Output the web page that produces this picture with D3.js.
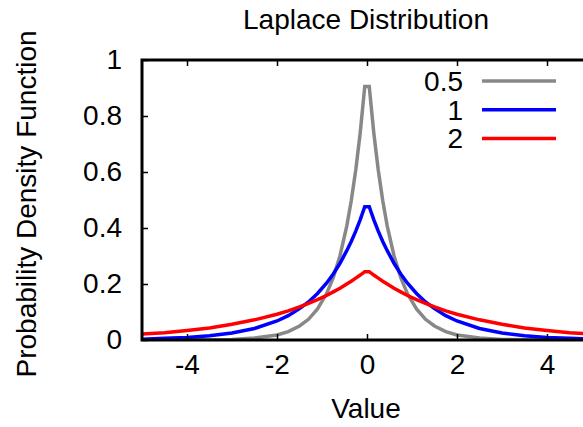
<!doctype html>
<html>
  <head>
    <meta charset="utf-8">
    <script src="https://cdnjs.cloudflare.com/ajax/libs/d3/7.8.5/d3.min.js"></script>
    <style>
      body { margin: 0; background: #fff; }
      text { font-family: "Liberation Sans", Arial, sans-serif; fill: #000; }
    </style>
  </head>
  <body>
    <svg width="583" height="427"></svg>
    <script>
      // x sample positions and pdf values
      var xs = [-5, -4.5, -4, -3.5, -3, -2.5, -2, -1.75, -1.5, -1.3, -1.1, -0.9, -0.75, -0.6, -0.45, -0.35, -0.25, -0.15, -0.05,
                0.05, 0.15, 0.25, 0.35, 0.45, 0.6, 0.75, 0.9, 1.1, 1.3, 1.5, 1.75, 2, 2.5, 3, 3.5, 4, 4.5, 5];
      var scaleHalf = [0.000, 0.000, 0.000, 0.001, 0.002, 0.007, 0.018, 0.030, 0.050, 0.074, 0.111, 0.165, 0.223, 0.301, 0.407, 0.497, 0.607, 0.741, 0.905,
                       0.905, 0.741, 0.607, 0.497, 0.407, 0.301, 0.223, 0.165, 0.111, 0.074, 0.050, 0.030, 0.018, 0.007, 0.002, 0.001, 0.000, 0.000, 0.000];
      var scaleOne = [0.003, 0.006, 0.009, 0.015, 0.025, 0.041, 0.068, 0.087, 0.112, 0.136, 0.166, 0.203, 0.236, 0.274, 0.319, 0.352, 0.389, 0.430, 0.476,
                      0.476, 0.430, 0.389, 0.352, 0.319, 0.274, 0.236, 0.203, 0.166, 0.136, 0.112, 0.087, 0.068, 0.041, 0.025, 0.015, 0.009, 0.006, 0.003];
      var scaleTwo = [0.021, 0.026, 0.034, 0.043, 0.056, 0.072, 0.092, 0.104, 0.118, 0.131, 0.144, 0.159, 0.172, 0.185, 0.200, 0.210, 0.221, 0.232, 0.244,
                      0.244, 0.232, 0.221, 0.210, 0.200, 0.185, 0.172, 0.159, 0.144, 0.131, 0.118, 0.104, 0.092, 0.072, 0.056, 0.043, 0.034, 0.026, 0.021];

      var seriesNames = ["0.5", "1", "2"];
      var seriesColors = ["#888888", "#0000ff", "#ff0000"];
      var xTicks = [-4, -2, 0, 2, 4];
      var yTicks = [0, 0.2, 0.4, 0.6, 0.8, 1];

      var series = [scaleHalf, scaleOne, scaleTwo];

      var svg = d3.select("svg");
      var plotLeft = 142, plotRight = 592, plotTop = 60, plotBottom = 340;
      var fontSize = "28px";

      var x = d3.scaleLinear().domain([-5, 5]).range([plotLeft, plotRight]);
      var y = d3.scaleLinear().domain([0, 1]).range([plotBottom, plotTop]);

      svg.append("defs").append("clipPath").attr("id", "plotclip")
        .append("rect").attr("x", plotLeft).attr("y", plotTop)
          .attr("width", plotRight - plotLeft).attr("height", plotBottom - plotTop);

      // curves
      var line = d3.line()
        .x(function(d) { return x(d[0]); })
        .y(function(d) { return y(d[1]); });

      svg.append("g").attr("clip-path", "url(#plotclip)")
        .selectAll("path")
        .data(series)
        .enter()
        .append("path")
          .attr("d", function(s) { return line(s.map(function(v, i) { return [xs[i], v]; })); })
          .attr("fill", "none")
          .attr("stroke", function(d, i) { return seriesColors[i]; })
          .attr("stroke-width", 3.5);

      // ticks (inward, mirrored)
      function tickStyle(g) {
        g.select(".domain").remove();
        g.selectAll(".tick line").attr("stroke", "#000").attr("stroke-width", 1.5);
        g.selectAll(".tick text").style("font-size", fontSize).style("font-family", "Liberation Sans, Arial, sans-serif");
      }
      var plain = function(d) { return String(d); };

      svg.append("g")
        .attr("transform", "translate(0," + plotBottom + ")")
        .call(d3.axisBottom(x).tickValues(xTicks).tickSizeInner(-6).tickSizeOuter(0).tickPadding(14).tickFormat(plain))
        .call(tickStyle);

      svg.append("g")
        .attr("transform", "translate(0," + plotTop + ")")
        .call(d3.axisTop(x).tickValues(xTicks).tickSizeInner(-6).tickSizeOuter(0).tickFormat(""))
        .call(tickStyle);

      svg.append("g")
        .attr("transform", "translate(" + plotLeft + ",0)")
        .call(d3.axisLeft(y).tickValues(yTicks).tickSizeInner(-6).tickSizeOuter(0).tickPadding(20).tickFormat(plain))
        .call(tickStyle);

      // border
      svg.append("rect")
        .attr("x", plotLeft).attr("y", plotTop)
        .attr("width", plotRight - plotLeft).attr("height", plotBottom - plotTop)
        .attr("fill", "none").attr("stroke", "#000").attr("stroke-width", 3);

      // legend
      var legend = svg.append("g").selectAll("g")
        .data(seriesNames)
        .enter()
        .append("g")
          .attr("transform", function(d, i) { return "translate(0," + (81 + i * 28.7) + ")"; });

      legend.append("text")
        .attr("x", 463).attr("dy", "0.35em")
        .attr("text-anchor", "end")
        .style("font-size", fontSize)
        .text(function(d) { return d; });

      legend.append("line")
        .attr("x1", 482).attr("x2", 556)
        .attr("stroke", function(d, i) { return seriesColors[i]; })
        .attr("stroke-width", 3.5);

      // titles
      svg.append("text")
        .attr("x", 366).attr("y", 29)
        .attr("text-anchor", "middle")
        .style("font-size", fontSize)
        .text("Laplace Distribution");

      svg.append("text")
        .attr("x", 366).attr("y", 418)
        .attr("text-anchor", "middle")
        .style("font-size", fontSize)
        .text("Value");

      svg.append("text")
        .attr("transform", "translate(36,204) rotate(-90)")
        .attr("text-anchor", "middle")
        .style("font-size", fontSize)
        .text("Probability Density Function");
    </script>
  </body>
</html>
